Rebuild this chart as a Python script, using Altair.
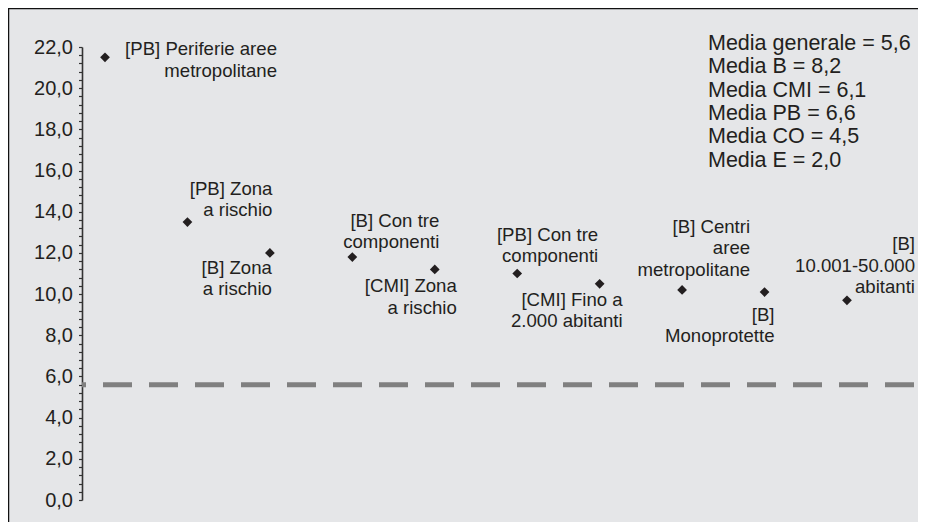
import altair as alt
import pandas as pd

FONT = "Liberation Sans"
INK = "#231f20"
BG = "#e5e6e8"

# ---- data ----
labels = [
    "[PB] Periferie aree\nmetropolitane",
    "[PB] Zona\na rischio",
    "[B] Zona\na rischio",
    "[B] Con tre\ncomponenti",
    "[CMI] Zona\na rischio",
    "[PB] Con tre\ncomponenti",
    "[CMI] Fino a\n2.000 abitanti",
    "[B] Centri\naree\nmetropolitane",
    "[B]\nMonoprotette",
    "[B]\n10.001-50.000\nabitanti",
]
positions = [1, 2, 3, 4, 5, 6, 7, 8, 9, 10]
values = [21.5, 13.5, 12.0, 11.8, 11.2, 11.0, 10.5, 10.2, 10.1, 9.7]

mean_names = ["Media generale", "Media B", "Media CMI", "Media PB", "Media CO", "Media E"]
mean_values = [5.6, 8.2, 6.1, 6.6, 4.5, 2.0]

y_tick_values = [round(i * 0.4, 1) for i in range(56)]  # 0,0 ... 22,0 (minor step 0,4)

# label placement offsets (pixels, relative to each point): (dx to right edge, dy to first baseline)
label_offsets = [(172, -2), (85, -27), (2, 21), (87, -30), (22, 23),
                 (81, -33), (23, 22), (68, -57), (10, 29), (68, -50)]

df = pd.DataFrame({"idx": list(range(len(labels))), "pos": positions,
                   "value": values, "label": labels})

X = alt.X("pos:Q", scale=alt.Scale(domain=[0.721, 10.813], nice=False, zero=False), axis=None)
Y = alt.Y(
    "value:Q",
    scale=alt.Scale(domain=[0, 22], nice=False, zero=True),
    axis=alt.Axis(
        title=None, grid=False, values=y_tick_values,
        labelExpr="abs(datum.value - round(datum.value / 2) * 2) < 0.01 ? replace(format(datum.value, '.1f'), '.', ',') : ''",
        labelOverlap=False, labelFlush=False, labelFont=FONT, labelFontSize=20,
        labelColor=INK, labelPadding=6, tickSize=3.5, tickWidth=1.2, tickColor="#333",
        domainColor="#333", domainWidth=1.6,
    ),
)

points = alt.Chart(df).mark_point(shape="diamond", filled=True, size=95, color=INK, opacity=1).encode(x=X, y=Y)

label_layers = []
for i, (ldx, ldy) in enumerate(label_offsets):
    label_layers.append(
        alt.Chart(df).transform_filter(alt.datum.idx == i).mark_text(
            align="right", baseline="alphabetic", dx=ldx, dy=ldy, fontSize=18.6,
            lineHeight=21.3, lineBreak="\n", font=FONT, color=INK,
        ).encode(x=X, y=Y, text="label:N")
    )

mean_line = alt.Chart(pd.DataFrame({"value": [mean_values[0]]})).mark_rule(
    stroke="#808080", strokeWidth=5, strokeDash=[29, 17]
).encode(y=Y)

legend_text = "\n".join(f"{n} = {v:.1f}".replace(".", ",") for n, v in zip(mean_names, mean_values))
legend = alt.Chart(pd.DataFrame({"t": [legend_text]})).mark_text(
    align="left", baseline="alphabetic", fontSize=21.5, lineHeight=23.3,
    lineBreak="\n", font=FONT, color=INK,
).encode(x=alt.value(626), y=alt.value(3), text="t:N")

frame_top = alt.Chart(pd.DataFrame({"a": [0]})).mark_rule(color="#111", strokeWidth=1.5).encode(
    x=alt.value(-74), x2=alt.value(836), y=alt.value(-38.5))
frame_left = alt.Chart(pd.DataFrame({"a": [0]})).mark_rule(color="#111", strokeWidth=1.5).encode(
    x=alt.value(-73.5), y=alt.value(-39), y2=alt.value(480))

chart = alt.layer(mean_line, points, *label_layers, legend, frame_top, frame_left).properties(
    width=832, height=453,
    padding={"left": 74, "top": 39, "right": 4, "bottom": 22},
    autosize=alt.AutoSizeParams(type="none"),
    background=BG,
).configure_view(strokeWidth=0)

chart.save("out.html", embed_options={"renderer": "svg", "actions": False})
